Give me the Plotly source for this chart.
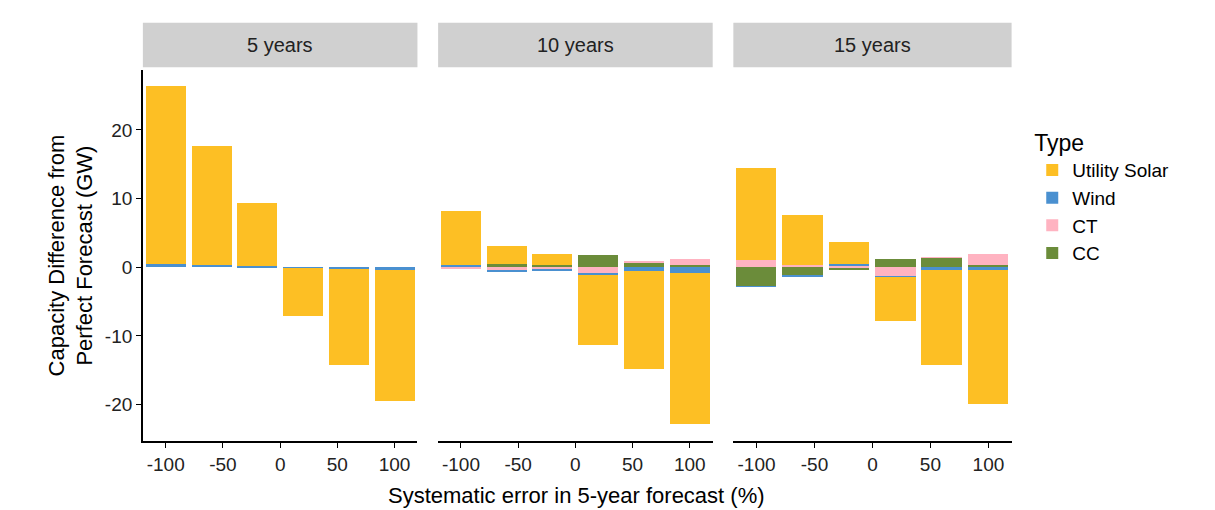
import plotly.graph_objects as go

# bar positions (systematic error, %)
errors = [-100, -60, -20, 20, 60, 100]
panels = ["5 years", "10 years", "15 years"]
tick_vals = [-100, -50, 0, 50, 100]
tick_text = ["-100", "-50", "0", "50", "100"]
y_ticks = [-20, -10, 0, 10, 20]
y_text = ["-20", "-10", "0", "10", "20"]

# capacity difference (GW) per panel, per type
solar = [
    [25.8, 17.3, 9.1, -6.9, -14.0, -19.0],
    [7.9, 2.6, 1.6, -10.2, -14.2, -22.0],
    [13.4, 7.3, 3.2, -6.45, -13.9, -19.5],
]
wind = [
    [0.5, 0.3, 0.2, -0.2, -0.3, -0.5],
    [0.3, -0.1, -0.1, -0.3, -0.6, -0.9],
    [-0.1, -0.1, 0.2, -0.1, -0.4, -0.4],
]
ct = [
    [0.0, 0.0, 0.0, 0.0, 0.0, 0.0],
    [-0.2, -0.5, -0.4, -0.9, 0.1, 0.8],
    [1.0, 0.3, 0.2, -1.35, 0.05, 1.55],
]
cc = [
    [0.0, 0.0, 0.0, 0.0, 0.0, 0.0],
    [0.0, 0.5, 0.3, 1.8, 0.7, 0.35],
    [-2.8, -1.3, -0.5, 1.2, 1.4, 0.35],
]

types = [("CC", cc, "#6B8C3A"), ("CT", ct, "#FFB3C1"),
         ("Wind", wind, "#4A90D0"), ("Utility Solar", solar, "#FDBF24")]
ranks = {"Utility Solar": 1, "Wind": 2, "CT": 3, "CC": 4}

fig = go.Figure()
for p in range(3):
    xa = "x" if p == 0 else "x%d" % (p + 1)
    for name, vals, col in types:
        fig.add_trace(go.Bar(
            x=errors, y=vals[p], width=35, name=name, xaxis=xa, yaxis="y",
            marker=dict(color=col, line=dict(width=0)),
            legendgroup=name, showlegend=(p == 0), legendrank=ranks[name],
        ))

domains = [(0.111, 0.337), (0.354, 0.580), (0.597, 0.826)]
font = "Arial, Liberation Sans, sans-serif"
axis_common = dict(range=[-120, 120], tickvals=tick_vals, ticktext=tick_text,
                   showgrid=False, zeroline=False, showline=True,
                   linecolor="black", linewidth=1.5, ticks="outside",
                   ticklen=5, tickcolor="black",
                   tickfont=dict(size=19, color="#222"))
layout = dict(
    barmode="relative",
    width=1215, height=510,
    plot_bgcolor="white", paper_bgcolor="white",
    font=dict(family=font, color="black"),
    margin=dict(l=0, r=0, t=0, b=0),
    yaxis=dict(domain=[0.151, 0.878], range=[-25.3, 28.7],
               tickvals=y_ticks, ticktext=y_text, showgrid=False, zeroline=False,
               showline=True, linecolor="black", linewidth=1.5,
               ticks="outside", ticklen=5, tickcolor="black",
               tickfont=dict(size=19, color="#222"), anchor="x",
               title=dict(text="Capacity Difference from<br>Perfect Forecast (GW)",
                          font=dict(size=22), standoff=6)),
    legend=dict(x=0.843, y=0.63, yanchor="middle", xanchor="left",
                title=dict(text="Type", font=dict(size=23)),
                font=dict(size=19), itemwidth=30, tracegroupgap=0),
    bargap=0,
)
for p in range(3):
    key = "xaxis" if p == 0 else "xaxis%d" % (p + 1)
    layout[key] = dict(axis_common, domain=list(domains[p]), anchor="y")
fig.update_layout(**layout)

shapes = []
annotations = []
for p, (d0, d1) in enumerate(domains):
    shapes.append(dict(type="rect", xref="paper", yref="paper", x0=d0, x1=d1,
                       y0=0.884, y1=0.971, fillcolor="#D0D0D0", line_width=0,
                       layer="below"))
    annotations.append(dict(text=panels[p], xref="paper", yref="paper",
                            x=(d0 + d1) / 2, y=0.9275, xanchor="center",
                            yanchor="middle", showarrow=False,
                            font=dict(size=20, color="#222")))
annotations.append(dict(text="Systematic error in 5-year forecast (%)",
                        xref="paper", yref="paper", x=0.468, y=0.015,
                        xanchor="center", yanchor="bottom", showarrow=False,
                        font=dict(size=22)))
fig.update_layout(shapes=shapes, annotations=annotations)

fig.write_html("out.html")
